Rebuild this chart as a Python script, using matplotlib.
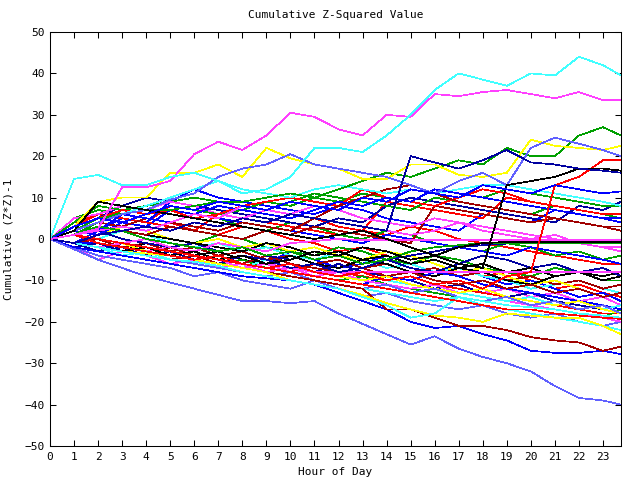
import matplotlib
matplotlib.use('Agg')
import matplotlib.pyplot as plt

# hour positions of each sample (last sample at 23:45)
hours = list(range(24)) + [23.75]

RED = '#ff0000'
GREEN = '#00a000'
BLUE = '#0000ff'
MAGENTA = '#ff40ff'
CYAN = '#40ffff'
DARKRED = '#a00000'
YELLOW = '#ffff00'
BLACK = '#000000'
NAVY = '#0000a0'
LIGHTBLUE = '#6060ff'

# cumulative (Z*Z)-1 per station, hourly
top_cyan = [0, 14.5, 15.5, 13, 13, 15, 16, 14, 11, 12, 15, 22, 22, 21, 25, 30, 36, 40, 38.5, 37, 40, 39.5, 44, 42, 39.5]
top_magenta = [0, 1, 2.5, 12.5, 12.5, 14, 20.5, 23.5, 21.5, 25, 30.5, 29.5, 26.5, 25, 30, 29.5, 35, 34.5, 35.5, 36, 35, 34, 35.5, 33.5, 33.5]
up_green = [0, 2, 5, 6, 7, 7, 8, 9, 9, 10, 11, 10, 12, 14, 16, 15, 17, 19, 18, 22, 20, 20, 25, 27, 25]
up_yellow = [0, 3, 9, 10, 10, 16, 16, 18, 15, 22, 19.5, 18, 17, 14.5, 14.5, 18, 18, 15.5, 15, 16, 24, 22.5, 22, 21.5, 22.5]
up_lightblue = [0, 2, 4, 6, 7, 9.5, 11, 15, 17, 18, 20.5, 18, 17, 16, 15, 13, 11, 14, 16, 13, 22, 24.5, 23, 21.5, 20]
up_red = [0, 1, -1, -2, -3, -4, -5, -4, -6, -7, -6, -8, -9, -8, -10, -9, -11, -10, -12, -9, -8, 13, 15, 19, 19]
up_black = [0, 2, 9, 8, 7, 6, 5, 4, 3, 2, 1, 0, 1, 2, 0, -2, -4, -6, -7, 13, 14, 15, 17, 17, 16.5]
up_navy = [0, -1, 1, 2, 3, 2, 4, 3, 5, 4, 6, 5, 4, 3, 2, 20, 18.5, 17, 19, 21.5, 18.5, 18, 17, 16.5, 16]
up_blue = [0, 3, 5, 4, 6, 8, 7, 9, 8, 7, 9, 8, 7, 10, 9, 12, 11, 10, 13, 12, 11, 13, 12, 11, 11.5]

mid_green = [0, 4, 8, 7, 6, 8, 7, 6, 7, 9, 8, 10, 9, 11, 10, 9, 12, 11, 10, 12, 11, 10, 9, 8, 8]
mid_red = [0, 3, 5, 7, 6, 7, 5, 6, 8, 9, 10, 9, 8, 12, 10, 9, 8, 10, 12, 11, 9, 8, 7, 6, 6]
mid_darkred = [0, 2, 4, 3, 5, 4, 3, 2, 4, 3, 2, 5, 8, 10, 12, 13, 11, 9, 8, 7, 6, 5, 4, 3, 3]
mid_cyan = [0, 2, 4, 6, 8, 10, 12, 14, 12, 11, 10, 12, 13, 12, 11, 12, 11, 12, 13, 13, 12, 11, 10, 9, 8]
mid_blue = [0, -1, 2, 6, 5, 4, 6, 8, 7, 6, 5, 7, 9, 8, 10, 9, 12, 11, 10, 9, 8, 7, 6, 5, 5]
mid_magenta = [0, 1, 2, 3, 2, 4, 6, 5, 8, 7, 6, 5, 4, 3, 2, 1, 2, 4, 3, 2, 1, 0, -1, -2, -2]

flat_magenta_0 = [0, -1, -2, -1, 0, -2, -3, -1, -2, -3, -1, -0.5, 0, -0.3, -0.3, -0.3, -0.3, -0.3, -0.3, -0.3, -0.3, -0.3, -0.3, -0.3, -0.3]
flat_magenta_8 = [0, -1, -2, -3, -4, -5, -4, -6, -7, -6, -7, -8, -8, -8, -8, -8, -8, -8, -8, -8, -8, -8, -8, -8, -8]
flat_black = [0, -1, -2, -3, -2, -4, -3, -5, -4, -6, -5, -3, -4, -2, -3, -5, -4, -2, -1, -0.7, -0.7, -0.7, -0.7, -0.7, -0.7]
flat_green = [0, 1, 3, 2, 0, -1, -2, -3, -2, -4, -3, -5, -4, -6, -5, -3, -2, -1.5, -1, -0.9, -0.9, -0.9, -0.9, -0.9, -0.9]
flat_navy = [0, -2, -1, -3, -4, -3, -5, -6, -4, -5, -7, -6, -8, -7, -5, -4, -3, -2, -1.5, -1.1, -1.1, -1.1, -1.1, -1.1, -1.1]

low_blue = [0, -2, -3, -4, -5, -6, -7, -8, -9, -9.5, -10, -11, -13, -15, -17, -20, -21.5, -21, -23, -24.5, -27, -27.5, -27.5, -27, -27.8]
low_darkred = [0, -1, -2, -3, -4, -5, -4, -6, -7, -8, -9, -10, -11, -12, -17, -17, -19, -21, -21, -22, -23.7, -24.5, -25, -27, -26]
low_yellow = [0, -1, -2, -3, -3.5, -4, -5, -6, -7, -8, -10, -11, -12, -13.5, -15.5, -17, -18.5, -19, -20, -18, -18.5, -19, -19, -21, -23]
low_cyan = [0, -1, -2, -3, -4, -5, -5.5, -6.5, -8, -9, -10, -11, -12, -14, -16, -19, -18, -14, -15, -16, -16.5, -17, -18, -18.5, -19]
low_red = [0, 1, 0, -1, -2, -3, -4, -5, -6, -7, -8, -9, -10, -11, -12, -13, -14, -15, -16, -17, -17, -18, -18.5, -19, -19.3]
low_lightblue = [0, -2.5, -5, -7, -9, -10.5, -12, -13.5, -15, -15, -15.5, -15, -18, -20.5, -23, -25.5, -23.5, -26.5, -28.5, -30, -32, -35.5, -38.4, -39, -40]

m_red1 = [0, 2, 4, 3, 5, 4, 2, 1, 3, 2, 0, -1, -3, -2, -4, -6, -5, -7, -9, -8, -10, -12, -11, -13, -14]
m_green1 = [0, 1, 3, 2, 1, 0, -1, 1, 0, -2, -3, -4, -2, -3, -5, -6, -4, -5, -7, -8, -9, -7, -8, -10, -10]
m_blue1 = [0, -2, -3, -1, -2, -4, -3, -5, -4, -6, -3, -5, -7, -6, -4, -6, -8, -7, -9, -11, -10, -12, -14, -13, -15]
m_magenta1 = [0, -2, -5, -3, -4, -6, -5, -7, -6, -8, -7, -9, -8, -10, -9, -11, -12, -11, -13, -12, -14, -13, -15, -14, -16]
m_cyan1 = [0, 1, 0, 2, 1, -1, -2, -1, -3, -2, -4, -5, -3, -5, -7, -6, -8, -7, -9, -10, -12, -11, -10, -12, -13]
m_darkred1 = [0, -1, 0, -2, -1, -3, -2, -4, -3, -5, -4, -6, -5, -7, -6, -8, -7, -9, -8, -10, -9, -11, -10, -12, -11]
m_yellow1 = [0, 2, 1, 3, 2, 0, -1, 0, -2, -1, -3, -2, -4, -5, -3, -4, -6, -8, -7, -9, -11, -10, -12, -14, -13]
m_black1 = [0, -1, -2, -3, -1, -2, -4, -3, -5, -6, -4, -6, -7, -5, -6, -8, -9, -7, -8, -10, -11, -9, -8, -9, -8]
m_navy1 = [0, -1, -3, -2, -4, -3, -5, -6, -4, -5, -7, -8, -6, -8, -9, -10, -12, -11, -13, -14, -13, -15, -16, -17, -18]
m_lightblue1 = [0, -2, -4, -5, -6, -7, -9, -8, -10, -11, -12, -10, -12, -14, -13, -15, -16, -17, -16, -18, -19, -18, -20, -21, -20]
m_red2 = [0, -1, -2, -3, -4, -3, -5, -6, -5, -7, -8, -6, -8, -9, -10, -9, -11, -12, -13, -14, -15, -16, -17, -18, -18]
m_green2 = [0, -1, -2, -3, -2, -4, -5, -6, -5, -7, -8, -9, -10, -9, -11, -12, -13, -14, -15, -14, -16, -17, -18, -19, -17]
m_blue2 = [0, -1, -1, -2, -3, -4, -5, -4, -6, -7, -8, -9, -10, -11, -9, -10, -8, -9, -11, -12, -13, -14, -15, -16, -17]
m_magenta2 = [0, 1, -1, -2, -3, -2, -4, -5, -7, -6, -8, -9, -8, -10, -11, -12, -11, -13, -14, -15, -16, -17, -18, -19, -20]
m_cyan2 = [0, -1, -2, -4, -3, -5, -4, -6, -7, -5, -7, -8, -9, -8, -10, -11, -12, -13, -14, -15, -14, -16, -15, -17, -16]
m_darkred2 = [0, -2, -1, -3, -4, -2, -4, -5, -6, -4, -6, -7, -8, -7, -9, -8, -10, -11, -10, -12, -11, -13, -12, -14, -13]
m_yellow2 = [0, -1, -2, -1, -3, -4, -3, -5, -6, -7, -6, -8, -9, -10, -9, -11, -12, -13, -12, -14, -15, -16, -15, -17, -18]
m_navy2 = [0, 1, 2, 0, -1, -2, -1, -3, -2, -4, -5, -3, -4, -6, -5, -7, -8, -6, -4, -5, -7, -6, -8, -7, -9]
m_lightblue2 = [0, -1, -2, -3, -4, -5, -6, -7, -8, -9, -8, -10, -11, -12, -11, -13, -12, -14, -15, -14, -16, -15, -17, -16, -18]
m_red3 = [0, 3, 6, 5, 4, 8, 7, 6, 5, 4, 6, 5, 3, 2, 1, 3, 2, 0, -1, -2, -3, -4, -5, -6, -6]
m_green3 = [0, 5, 7, 6, 5, 4, 6, 5, 3, 2, 4, 3, 1, 0, 2, 1, -1, -2, -3, -1, -2, -4, -3, -5, -4]
m_blue3 = [0, 2, 1, 4, 3, 7, 6, 5, 4, 3, 2, 1, 0, -1, 1, 0, -1, -2, -3, -4, -2, -3, -4, -5, -6]
m_black2 = [0, 1, 3, 2, 1, 0, -1, -2, -3, -1, -2, -4, -3, -5, -4, -6, -5, -7, -6, -8, -7, -9, -8, -10, -9]
m_cyan3 = [0, -1, -2, -3, -4, -3, -5, -6, -7, -8, -9, -10, -11, -12, -13, -14, -15, -14, -16, -17, -18, -19, -20, -21, -22]

u_blue = [0, 1, 2, 5, 4, 9, 12, 10, 9, 8, 7, 6, 8, 7, 5, 4, 3, 2, 6, 5, 4, 7, 6, 5, 4]
u_red = [0, 4, 6, 5, 4, 3, 2, 6, 5, 4, 3, 2, 1, 2, 9, 8, 7, 6, 5, 10, 9, 8, 7, 6, 5]
u_navy = [0, 2, 5, 8, 10, 9, 8, 7, 6, 5, 4, 3, 5, 4, 8, 10, 9, 8, 7, 6, 5, 4, 8, 7, 9]
u_green = [0, 1, 4, 7, 8, 9, 10, 9, 8, 7, 9, 11, 10, 9, 8, 7, 10, 9, 8, 7, 6, 8, 7, 6, 5]
u_darkred = [0, 1, 3, 2, 1, 3, 2, 1, 0, 2, 1, 3, 2, 1, 0, -1, 8, 7, 6, 5, 4, 5, 4, 3, 2]
u_magenta = [0, 5, 6, 8, 7, 9, 8, 6, 5, 7, 6, 8, 7, 5, 4, 3, 5, 4, 2, 1, 0, 1, -1, -2, -3]

series = [
    (m_red1, RED), (m_green1, GREEN), (m_blue1, BLUE), (m_magenta1, MAGENTA),
    (m_cyan1, CYAN), (m_darkred1, DARKRED), (m_yellow1, YELLOW), (m_black1, BLACK),
    (m_navy1, NAVY), (m_lightblue1, LIGHTBLUE),
    (m_red2, RED), (m_green2, GREEN), (m_blue2, BLUE), (m_magenta2, MAGENTA),
    (m_cyan2, CYAN), (m_darkred2, DARKRED), (m_yellow2, YELLOW), (m_navy2, NAVY),
    (m_lightblue2, LIGHTBLUE), (m_red3, RED), (m_green3, GREEN), (m_blue3, BLUE),
    (m_black2, BLACK), (m_cyan3, CYAN),
    (u_blue, BLUE), (u_red, RED), (u_navy, NAVY), (u_green, GREEN),
    (u_darkred, DARKRED), (u_magenta, MAGENTA),
    (mid_green, GREEN), (mid_red, RED), (mid_darkred, DARKRED), (mid_cyan, CYAN),
    (mid_blue, BLUE), (mid_magenta, MAGENTA),
    (flat_magenta_0, MAGENTA), (flat_magenta_8, MAGENTA), (flat_navy, NAVY),
    (flat_green, GREEN), (flat_black, BLACK),
    (low_blue, BLUE), (low_darkred, DARKRED), (low_yellow, YELLOW), (low_cyan, CYAN),
    (low_red, RED), (low_lightblue, LIGHTBLUE),
    (up_green, GREEN), (up_yellow, YELLOW), (up_lightblue, LIGHTBLUE), (up_red, RED),
    (up_black, BLACK), (up_navy, NAVY), (up_blue, BLUE),
    (top_magenta, MAGENTA), (top_cyan, CYAN),
]

plt.rcParams['font.family'] = ['DejaVu Sans Mono']
plt.rcParams['font.size'] = 8

fig = plt.figure(figsize=(6.4, 4.8), dpi=100)
ax = fig.add_axes([50 / 640, 1 - 446 / 480, 571 / 640, 414 / 480])

for values, color in series:
    ax.plot(hours, values, color=color, linewidth=0.5, antialiased=False)

ax.set_xlim(0, 23.75)
ax.set_ylim(-50, 50)
ax.set_xticks(range(24))
ax.set_yticks(range(-50, 51, 10))
ax.tick_params(direction='in', length=4, width=0.75, top=True, right=True, pad=4)
ax.tick_params(axis='x', labelsize=8)
ax.tick_params(axis='y', labelsize=8)
for sp in ax.spines.values():
    sp.set_linewidth(0.75)

ax.set_title('Cumulative Z-Squared Value', fontsize=8, pad=10)
ax.set_xlabel('Hour of Day', fontsize=8, labelpad=4)
ax.set_ylabel('Cumulative (Z*Z)-1', fontsize=8, labelpad=8)

fig.savefig('out.png', dpi=100)
